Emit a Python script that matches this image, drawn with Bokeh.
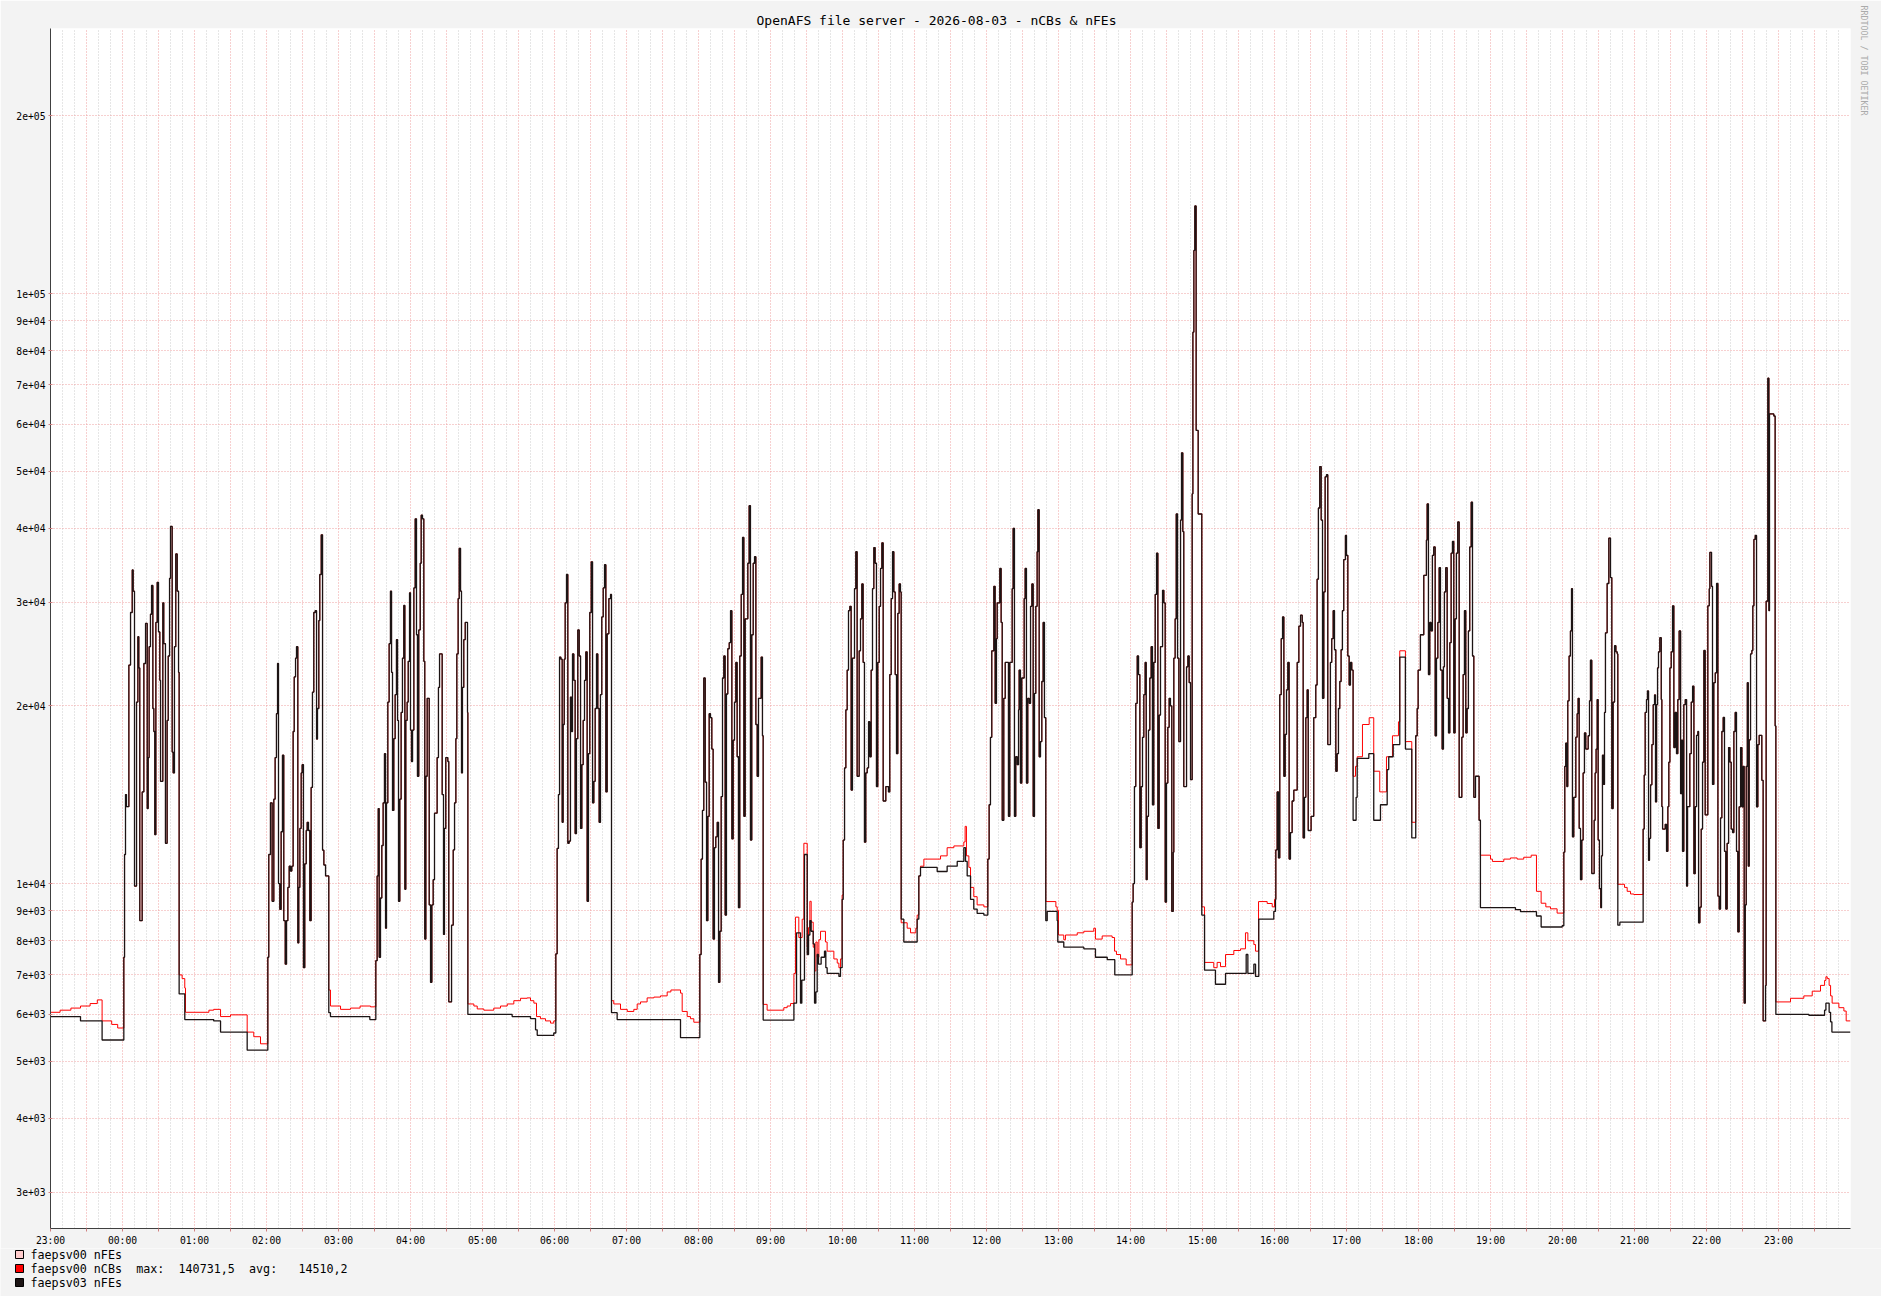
import math
from bokeh.plotting import figure
from bokeh.models import FixedTicker, Range1d, Title
from bokeh.core.properties import value
from bokeh.embed import file_html
from bokeh.resources import INLINE

FONT = "DejaVu Sans Mono"
TITLE = "OpenAFS file server - 2026-08-03 - nCBs & nFEs"
WATERMARK = "RRDTOOL / TOBI OETIKER"

# x axis: minutes since 2026-08-02 23:00, 25 hours shown
X_END = 1500
hour_labels = ["23:00", "00:00", "01:00", "02:00", "03:00", "04:00", "05:00",
               "06:00", "07:00", "08:00", "09:00", "10:00", "11:00", "12:00",
               "13:00", "14:00", "15:00", "16:00", "17:00", "18:00", "19:00",
               "20:00", "21:00", "22:00", "23:00"]

y_tick_values = [3000, 4000, 5000, 6000, 7000, 8000, 9000,
                 10000, 20000, 30000, 40000, 50000, 60000, 70000, 80000, 90000,
                 100000, 200000]
y_tick_labels = ["3e+03", "4e+03", "5e+03", "6e+03", "7e+03", "8e+03", "9e+03",
                 "1e+04", "2e+04", "3e+04", "4e+04", "5e+04", "6e+04", "7e+04",
                 "8e+04", "9e+04", "1e+05", "2e+05"]

# legend rows, split into the columns rrdtool prints them in (char columns)
legend_names = ["faepsv00 nFEs", "faepsv00 nCBs", "faepsv03 nFEs"]
stat_texts = ["max:", "140731,5", "avg:", "14510,2"]
stat_cols = [15, 21, 31, 38]

# ---- data: (minute, value) step points ----
QB0 = [(0, 5950), (25, 5850), (43, 5430)]
QR0 = [(0, 6050), (8, 6100), (17, 6150), (25, 6200), (33, 6260), (39, 6350),
       (43, 5850), (51, 5770), (56, 5690)]
B1 = [(61.1, 7500), (61.7, 11200), (62.5, 14150), (63.3, 13500), (65.3, 23460),
      (66.7, 28800), (68.1, 34000), (68.9, 31300), (70, 9900), (71.7, 20300),
      (72.8, 26200), (73.6, 23200), (74.4, 8650), (76.4, 14300), (77.8, 23600),
      (79.2, 27600), (80.6, 13400), (81.4, 16350), (82.2, 25200), (83.3, 28600),
      (84.2, 32000), (85.3, 19800), (86.1, 18100), (86.9, 12100), (87.8, 27700),
      (88.9, 32400), (90, 26700), (91.1, 22100), (91.7, 14900), (93.6, 29900),
      (94.4, 25500), (95.8, 11700), (97.2, 18900), (98.1, 24300), (99.2, 32900),
      (100, 40300), (101.4, 16700), (102.2, 15400), (103.3, 25200),
      (104.4, 36200), (105.6, 31300), (106.7, 22800)]
QB1 = [(107.2, 6500), (111.9, 5880), (136, 5850), (141.7, 5600), (163.9, 5218)]
QR1 = [(107.2, 7000), (109.7, 6900), (111.9, 6650), (112.5, 6050), (132, 6100),
       (136, 6120), (141.7, 5950), (150, 5990), (163.9, 5600), (169.4, 5500),
       (175, 5350)]
B2 = [(181.1, 7500), (181.9, 11200), (183.3, 13700), (184.7, 9330),
      (186.1, 13900), (187.2, 16350), (188.3, 19400), (189.2, 23600),
      (190, 10000), (191.1, 9040), (192.2, 12240), (193.3, 16500), (194.4, 8650),
      (195.6, 7300), (196.7, 8650), (197.8, 9850), (198.9, 10700), (200, 10500),
      (201.1, 10700), (202.2, 18100), (203.1, 22400), (204.2, 24100),
      (205, 25200), (206.1, 7930), (206.9, 9850), (207.8, 12400), (208.9, 15400),
      (209.7, 15900), (210.8, 7200), (211.9, 10800), (213.1, 12300),
      (213.9, 12700), (215, 12300), (216.1, 8650), (217.2, 14550),
      (218.3, 21100), (219.4, 28800), (220.6, 29000), (221.7, 17570),
      (222.5, 19800), (223.6, 27900), (224.4, 33400), (225.6, 39000),
      (226.7, 11390), (227.8, 10750), (229.2, 10300)]
QB2 = [(231.9, 6040), (233.3, 5950), (266.1, 5880)]
QR2 = [(231.9, 6600), (233.3, 6200), (241.7, 6120), (250, 6150), (258, 6200),
       (266.7, 6180)]
B3 = [(271.1, 7400), (272.2, 10300), (273.1, 13400), (273.9, 7500), (275, 9450),
      (276.1, 11600), (277.2, 13700), (278.3, 16600), (279.2, 8400),
      (280, 13700), (281.1, 20300), (282.2, 25500), (283.3, 31300),
      (284.2, 22800), (285, 13300), (286.1, 17600), (287.2, 20900),
      (288.3, 25900), (289.2, 18900), (290, 9330), (291.1, 13900), (292.2, 19500),
      (293.3, 24100), (294.4, 29600), (295.3, 9780), (296.1, 18900),
      (297.2, 20300), (298.1, 23800), (299.2, 31100), (300, 18200),
      (300.8, 16100), (301.7, 18200), (302.8, 31700), (303.9, 41500),
      (305, 26400), (305.8, 15200), (306.9, 26900), (308.1, 34900),
      (308.9, 42100), (310, 41500), (311.1, 23800), (311.9, 8050), (312.8, 15200),
      (313.9, 20600), (315.6, 9200), (316.7, 6800), (317.8, 9200),
      (318.9, 10150), (320, 13160), (322.2, 16350), (323.3, 21500),
      (324.2, 24500), (326.4, 14150), (327.5, 8200), (328.3, 12400),
      (329.4, 16350), (331.1, 16100), (331.9, 6300), (334.2, 8500),
      (335.6, 11400), (336.7, 13700), (337.8, 17600), (338.6, 24500),
      (339.7, 30400), (340.6, 37000), (341.7, 31300), (342.5, 15400),
      (343.3, 21500), (344.4, 25900), (345.6, 27700), (347.5, 19500)]
QB3 = [(347.8, 6000), (384.7, 5950), (400, 5900), (404.2, 5650),
       (405.6, 5530), (419.4, 5580)]
QR3 = [(347.8, 6250), (352.8, 6200), (355.6, 6130), (361.1, 6100),
       (369.4, 6150), (375, 6200), (380.6, 6250), (386.1, 6330), (391.7, 6390),
       (397.2, 6400), (400, 6330), (402.8, 6270), (405, 5950), (408.3, 5900),
       (412.5, 5850), (416.7, 5800), (419.4, 5850)]
B4 = [(421.1, 7600), (422.2, 11470), (423.3, 14150), (424.2, 24200),
      (425.3, 24000), (426.4, 12700), (427.2, 18600), (428.1, 24000),
      (428.9, 29900), (430, 33400), (431.1, 11700), (432.2, 11800),
      (433.3, 20700), (434.2, 18100), (435, 24500), (436.1, 22100),
      (437.2, 12150), (438.3, 17600), (439.4, 26900), (440.6, 24300),
      (441.7, 12400), (442.8, 15900), (443.9, 18900), (445, 22100),
      (446.1, 24700), (447.2, 9330), (448.3, 16600), (449.4, 28800),
      (450.6, 35100), (451.7, 13700), (452.8, 14900), (453.9, 19800),
      (455, 24500), (456.1, 19800), (457.2, 12700), (458.3, 20900),
      (459.4, 28300), (460.6, 31700), (461.7, 34700), (462.8, 14300),
      (463.9, 26500), (465.3, 30400), (466.7, 30900)]
QB4 = [(467.5, 6040), (472.2, 5880), (525, 5480)]
QR4 = [(467.5, 6330), (469.4, 6250), (475, 6120), (480.6, 6070), (486.1, 6120),
       (488.9, 6250), (491.7, 6300), (497.2, 6400), (502.8, 6420),
       (508.3, 6450), (513.9, 6550), (517, 6600), (525, 6520), (526.4, 6070),
       (530.6, 5950), (533.3, 5900), (536.1, 5820)]
B5 = [(541.1, 7580), (542.2, 11000), (543.3, 13300), (544.4, 22300),
      (545.6, 14850), (546.7, 8650), (547.8, 13000), (548.9, 19400),
      (550, 19100), (551.1, 16900), (552.2, 8050), (553.3, 11500),
      (554.4, 12000), (555.6, 12700), (556.7, 6800), (557.8, 8300),
      (558.9, 14040), (560, 22300), (561.1, 24300), (562.2, 8840),
      (563.3, 20950), (564.4, 25000), (565.6, 25600), (566.7, 29000),
      (567.8, 11900), (568.9, 17500), (570, 20300), (571.1, 23700),
      (572.2, 16400), (573.3, 9100), (574.4, 24300), (575.6, 30900),
      (576.7, 38600), (577.8, 13000), (578.9, 28100), (581.1, 34900),
      (582.2, 43700), (583.3, 11850), (584.4, 26400), (585.6, 34900),
      (586.7, 35800), (587.8, 18600), (588.9, 15200), (590, 20600),
      (592.2, 24200), (593.3, 17800)]
QB5 = [(593.9, 5870)]
QR5 = [(593.9, 6240), (597.2, 6100), (611.1, 6160), (613.9, 6200),
       (616.7, 6260)]
MB = [(619.5, 6270), (621.7, 8250), (625, 6270), (626.1, 6860), (628.3, 11200),
      (630.6, 7580), (631.7, 8180), (632.8, 8650), (633.9, 8300), (635.6, 7900),
      (636.7, 6270), (637.8, 6550), (638.9, 7580), (640, 7300), (642.2, 7500),
      (645, 7680), (646.1, 7200), (647.2, 7040), (657, 6960), (658.3, 7200),
      (659.7, 9400)]
MR = [(619.5, 7040), (620.8, 8770), (623.6, 8100), (626.4, 8700),
      (627.8, 11700), (630.6, 7800), (631.7, 8420), (632.8, 9330),
      (633.9, 8600), (635.6, 7800), (636.7, 7110), (637.8, 7960), (638.9, 7500),
      (640.3, 8030), (641.7, 8300), (645.8, 7960), (647.2, 7680), (652.8, 7450),
      (655.6, 7330), (657, 7200), (658.3, 7450), (659.7, 9560)]
B6 = [(660.6, 11850), (661.7, 15700), (662.8, 19700), (663.9, 23000),
      (665, 29000), (666.1, 29500), (667.2, 14400), (668.3, 24100),
      (670, 31600), (671.1, 36500), (672.2, 15200), (673.9, 24800),
      (675, 28100), (676.1, 32200), (677.2, 23700), (678.3, 11750),
      (679.4, 15400), (680.6, 15700), (681.7, 18800), (682.8, 16400),
      (683.9, 23000), (685, 31600), (686.1, 37100), (687.2, 34900),
      (688.3, 14600), (689.4, 23700), (690.6, 29500), (691.7, 34200),
      (692.8, 37800), (693.9, 13800), (696.1, 14600), (698.3, 14300),
      (699.4, 22600), (700.6, 30400), (701.7, 36500), (702.8, 31200),
      (703.9, 22600), (705, 16600), (706.1, 28700), (707.2, 32200),
      (708.3, 31200)]
QB6 = [(708.9, 8700), (711.1, 7960), (722.2, 8700), (723.6, 10300),
       (725, 10650), (738.9, 10480), (747.2, 10700), (755.6, 10900),
       (761.1, 11500), (762.5, 10900), (763.9, 10300), (766.7, 9400),
       (769.4, 9050), (772.2, 8900), (777.8, 8840)]
QR6 = [(708.9, 8580), (713.9, 8400), (716.7, 8250), (721.1, 8400),
       (722.2, 8840), (723.6, 10300), (725, 10700), (727.8, 11000),
       (741.7, 11140), (747.2, 11500), (752.8, 11580), (761.1, 11760),
       (762.2, 12500), (763.3, 11140), (765.3, 10650), (766.7, 9850),
       (769.4, 9500), (772.2, 9200), (777.8, 9130)]
B7 = [(781.1, 11000), (782.2, 13600), (783.3, 17690), (784.4, 24800),
      (786.1, 31900), (787.2, 20200), (788.3, 26000), (788.9, 29900),
      (791.1, 34200), (792.2, 27700), (793.1, 12800), (794.4, 20600),
      (795.6, 23700), (798.3, 13000), (799.4, 23700), (801.4, 31600),
      (802.2, 40000), (803.3, 13000), (804.4, 16400), (805.6, 15900),
      (806.7, 19700), (807.2, 23000), (808.3, 14800), (809.4, 22300),
      (811.4, 30400), (812.2, 34200), (813.3, 14800), (814.4, 20600),
      (815.6, 20200), (816.7, 29500), (817.8, 32200), (818.9, 13000),
      (820, 21000), (821.1, 29500), (822.2, 36500), (822.8, 43000),
      (823.9, 16400), (825, 17400), (826.1, 22000), (827.2, 27700),
      (828.3, 19100)]
QB7 = [(829.4, 8650), (830.6, 8970), (838.9, 8650), (839.4, 7960),
       (844.4, 7800), (861.1, 7750), (870.8, 7500), (880.6, 7430),
       (886.9, 7000)]
QR7 = [(829.4, 9320), (837.8, 9130), (838.9, 9000), (840, 8180), (844.4, 8030),
       (845.8, 8180), (855.6, 8250), (861.1, 8300), (869.4, 8400),
       (870.8, 8050), (876.4, 8150), (884.7, 8100), (886.7, 7680),
       (888.3, 7580), (891.7, 7450), (896.4, 7280)]
B8 = [(901.4, 9300), (902.2, 10000), (903.3, 14600), (904.4, 20200),
      (905.6, 24300), (906.7, 22600), (907.8, 11500), (908.9, 14600),
      (910, 17690), (911.1, 20900), (912.2, 23700), (913.1, 10150),
      (913.9, 13000), (915, 18200), (916.1, 22300), (917.2, 25200),
      (918.3, 13600), (919.4, 23700), (920.6, 30900), (921.7, 36300),
      (922.8, 12400), (923.9, 19300), (925, 25200), (926.7, 31400),
      (927.8, 29900), (928.9, 9300), (930, 14800), (931.1, 18400),
      (932.2, 20600), (933.3, 20000), (934.4, 8970), (935.6, 11300),
      (936.1, 24100), (937.2, 28100), (938.1, 42300), (939.2, 24100),
      (940.3, 17400), (941.7, 41300), (942.5, 53700), (943.6, 39500),
      (944.4, 14600), (946.7, 23300), (947.8, 24300), (948.9, 21900),
      (950, 15000), (951.4, 45760), (952, 86000), (952.8, 118300),
      (953.6, 140731.5), (954.7, 58600), (956.4, 42300)]
QB8 = [(959.4, 8840), (961.7, 7130), (970.8, 6750), (979.2, 7040),
       (996.4, 7580), (997.8, 7040), (1002.8, 7300), (1004.2, 6960),
       (1006.9, 8700), (1019.4, 8970), (1020.8, 9400)]
QR8 = [(959.4, 9130), (961.7, 7350), (969.4, 7200), (972.2, 7350),
       (975, 7230), (979.2, 7580), (986.1, 7700), (991.7, 7750), (995.8, 8250),
       (997.8, 8000), (1002.8, 7880), (1004.2, 7680), (1006.7, 9320),
       (1013.9, 9250), (1018.1, 9130), (1020, 9400)]
B9 = [(1021.1, 11400), (1022.2, 14300), (1023.3, 11050), (1024.4, 20900),
      (1025.6, 26000), (1026.7, 28300), (1027.8, 15200), (1028.9, 17900),
      (1030, 21300), (1031.1, 23700), (1032.2, 11000), (1033.3, 12200),
      (1034.7, 13800), (1036.1, 14400), (1038.9, 23700), (1040.3, 27300),
      (1041.7, 28500), (1043.1, 27700), (1043.9, 11950), (1045, 14000),
      (1046.1, 19100), (1047.2, 21300), (1048.1, 12300), (1050.5, 13000),
      (1052.7, 19100), (1054.4, 21700), (1055.5, 32800), (1056.6, 43300),
      (1057.7, 50900), (1058.9, 41300), (1060, 20600), (1061.1, 31200),
      (1062.2, 48900), (1063.3, 49300), (1064.4, 17200), (1066.6, 23700),
      (1067.7, 26000), (1068.9, 29000), (1070, 24900), (1071.1, 15500),
      (1072.2, 16600), (1073.3, 19800), (1074.4, 22000), (1075.5, 24900),
      (1076.6, 29000), (1077.7, 35400), (1079.1, 38900), (1080, 36000),
      (1081.1, 24300), (1082.2, 21700), (1083.3, 23700), (1084.4, 23000)]
MidB = [(1085.5, 12800), (1088, 14000), (1088.9, 16300), (1098.6, 16600),
        (1102.7, 12800), (1108.3, 13600), (1113.9, 15600), (1115.2, 16400),
        (1118.9, 17200), (1124.4, 24200), (1129.1, 16900), (1134.4, 11950)]
MidR = [(1085.5, 15200), (1087.5, 15800), (1088.9, 16400), (1093.3, 18600),
        (1098.9, 19100), (1102.7, 15500), (1107.7, 14300), (1113.3, 16400),
        (1118.3, 17800), (1123.3, 18800), (1124.4, 24800), (1129.1, 17400),
        (1134.4, 12700)]
B10 = [(1137.7, 17800), (1138.9, 19800), (1139.7, 23000), (1141.6, 26400),
       (1144.4, 33300), (1146.6, 38200), (1147.2, 44000), (1148.3, 22600),
       (1149.4, 27700), (1150.5, 26800), (1151.6, 36000), (1152.7, 37200),
       (1153.9, 17800), (1155, 24100), (1156.1, 27700), (1157.2, 34300),
       (1158.3, 23000), (1159.7, 16900), (1160.8, 23300), (1161.6, 31200),
       (1162.7, 34300), (1163.9, 20600), (1165, 18000), (1166.1, 25600),
       (1167.2, 36300), (1168.3, 38000), (1169.4, 18000), (1170.5, 28100),
       (1171.6, 36300), (1172.7, 41000), (1173.9, 14000), (1176.1, 17700),
       (1177.2, 22600), (1178.3, 29000), (1179.4, 18000), (1180.5, 19800),
       (1181.6, 26800), (1182.7, 37200), (1183.9, 44300), (1185, 24300),
       (1186.1, 14000), (1187.5, 15200), (1190.5, 12800)]
QB10 = [(1191.6, 9100), (1220.8, 9030), (1225, 8960), (1238.3, 8810),
        (1242.2, 8440), (1259.7, 8480)]
QR10 = [(1191.6, 11170), (1200, 11000), (1201.6, 10900), (1211.1, 11000),
        (1216.6, 11050), (1222.2, 11000), (1227.7, 11080), (1233.9, 11170),
        (1238.3, 9700), (1242.2, 9260), (1246.1, 9130), (1250, 9060),
        (1255.5, 8910)]
B11 = [(1261.1, 11300), (1261.9, 15800), (1262.7, 17300), (1263.6, 14600),
       (1264.4, 20400), (1265.5, 24300), (1266.6, 26800), (1267.5, 31600),
       (1268.3, 12000), (1269.4, 14000), (1271.1, 17700), (1272.2, 19400),
       (1273, 20600), (1273.9, 12400), (1275, 10150), (1276.1, 11850),
       (1277.2, 15400), (1278.3, 18000), (1279.4, 16900), (1281.4, 17800),
       (1282.5, 20400), (1283.3, 23900), (1284.4, 10400), (1286.4, 12800),
       (1287.2, 15400), (1288, 16900), (1288.9, 20500), (1289.7, 11850),
       (1290.8, 9800), (1291.9, 9100), (1292.5, 11140), (1293.3, 16500),
       (1294.2, 14720), (1295, 19500), (1295.8, 26600), (1297.2, 32250),
       (1298.6, 38500), (1300, 33000), (1301.1, 13400), (1302.2, 20300),
       (1303.4, 25300), (1304.5, 24700), (1305.6, 24500)]
QB11 = [(1306.1, 8500), (1307.8, 8600)]
QR11 = [(1306.1, 9970), (1311.7, 9850), (1313.9, 9700), (1316.7, 9600),
        (1319.4, 9580)]
B12 = [(1327.2, 12370), (1328.1, 15270), (1328.9, 19500), (1330, 20500),
       (1330.8, 21200), (1331.7, 10950), (1332.5, 11930), (1333.4, 14700),
       (1334.5, 17200), (1335.6, 20100), (1336.7, 20880), (1337.5, 13750),
       (1338.4, 20100), (1339.2, 23200), (1340, 24700), (1341.1, 26100),
       (1342.3, 20500), (1342.8, 13500), (1343.4, 12370), (1345.6, 12600),
       (1346.7, 11340), (1347.8, 13500), (1348.6, 16060), (1349.5, 23200),
       (1350.6, 24700), (1351.7, 29560), (1352.8, 17000), (1353.9, 19500),
       (1355, 16600), (1356.1, 20500), (1357.2, 26800), (1358.4, 14200),
       (1359.2, 17500), (1360, 11340), (1361.1, 20100), (1362.3, 20500),
       (1363.4, 9900), (1364.2, 13500), (1366.1, 16600), (1367.3, 20300),
       (1368.4, 21600), (1369.5, 10390), (1370.6, 13500), (1371.7, 17830),
       (1372.8, 18100), (1373.4, 8580), (1374.5, 9120), (1375.6, 12370),
       (1376.7, 16060), (1377.8, 24830), (1378.9, 13070), (1381.1, 29560),
       (1382.3, 31600), (1382.8, 36420), (1384.2, 31900), (1385, 14720),
       (1386.1, 21900), (1387.3, 22760), (1388.4, 32250), (1389.5, 9520),
       (1390.6, 9050), (1391.7, 12920), (1392.8, 18100), (1393.9, 19120),
       (1395, 11340), (1396.1, 9050), (1397.2, 11700), (1398.4, 17000),
       (1399.5, 16060), (1400.6, 12370), (1401.7, 12200), (1402.8, 18100),
       (1403.9, 19500), (1405, 11340), (1406.1, 8280), (1407.2, 13490),
       (1408.4, 17000), (1409.5, 13490), (1410.6, 15800), (1411.4, 6270),
       (1412.3, 9200), (1413.1, 15800), (1414, 21900), (1414.8, 10700),
       (1415.6, 17520), (1416.7, 24500), (1417.8, 24830), (1418.6, 29560),
       (1419.5, 38300), (1420.6, 38900), (1421.7, 13490), (1422.8, 17200),
       (1423.9, 17830), (1426.1, 14960), (1427.2, 5850), (1429.2, 6720),
       (1429.7, 30100), (1431.1, 71870), (1432, 29000), (1432.5, 62500),
       (1436.1, 62000), (1437.2, 18500)]
QB12 = [(1437.8, 6000), (1465.3, 5980), (1478.4, 6100), (1479.5, 6270),
        (1482.2, 6050), (1483.4, 5830), (1484.5, 5600), (1500, 5600)]
QR12 = [(1437.8, 6300), (1450, 6390), (1461.1, 6450), (1468.1, 6570),
        (1475, 6720), (1478.4, 6850), (1479.5, 6950), (1480.6, 6900),
        (1482.2, 6720), (1483.4, 6450), (1484.7, 6270), (1490.3, 6160),
        (1494.5, 6080), (1496.4, 5850), (1500, 5850)]

black_segments = [QB0, B1, QB1, B2, QB2, B3, QB3, B4, QB4, B5, QB5, MB, B6, QB6,
                  B7, QB7, B8, QB8, B9, MidB, B10, QB10, B11, QB11, B12, QB12]
red_segments = [QR0, B1, QR1, B2, QR2, B3, QR3, B4, QR4, B5, QR5, MR, B6, QR6,
                B7, QR7, B8, QR8, B9, MidR, B10, QR10, B11, QR11, B12, QR12]


def series(segs):
    xs, ys = [], []
    for s in segs:
        for t, v in s:
            xs.append(t)
            ys.append(v)
    return xs, ys


bx, by = series(black_segments)
rx, ry = series(red_segments)

COL_RED = "#FF0000"
COL_BLACK = "#1C1414"
COL_PINK = "#FFCCCC"
BG = "#F3F3F3"

W = 1881
H_MAIN, H_LEG = 1248, 48
FL, FT, FW, FH = 50, 28, 1800, 1200   # frame left/top/width/height on canvas

p = figure(width=W, height=H_MAIN,
           x_range=Range1d(0, X_END), y_range=Range1d(2602, 281300),
           y_axis_type="log", output_backend="svg", toolbar_location=None,
           min_border_left=FL, min_border_right=W - FL - FW,
           min_border_top=FT, min_border_bottom=H_MAIN - FT - FH,
           background_fill_color="#FFFFFF", border_fill_color=BG,
           outline_line_color=None)

p.title.text = TITLE
p.title.align = "left"
p.title.offset = 706
p.title.standoff = 2
p.title.text_font = FONT
p.title.text_font_size = "13px"
p.title.text_font_style = "normal"
p.title.text_color = "#000000"

p.add_layout(Title(text=WATERMARK, align="left", offset=-23, standoff=17,
                   text_font=FONT, text_font_size="8.3px",
                   text_font_style="normal", text_color="#AAAAAA"), "right")

x_major = list(range(0, X_END, 30))
x_minor = [m for m in range(0, X_END, 10) if m % 30 != 0]
p.xaxis.ticker = FixedTicker(ticks=x_major, minor_ticks=x_minor)
p.xaxis.major_label_overrides = {
    m: (hour_labels[m // 60] if m % 60 == 0 else "") for m in x_major}
p.yaxis.ticker = FixedTicker(ticks=y_tick_values, minor_ticks=[])
p.yaxis.major_label_overrides = {v: s for v, s in zip(y_tick_values, y_tick_labels)}

for ax in (p.xaxis[0], p.yaxis[0]):
    ax.axis_line_color = "#404040"
    ax.major_label_text_font = FONT
    ax.major_label_text_font_size = "9.7px"
    ax.major_label_text_color = "#000000"
    ax.minor_tick_line_color = None
p.xaxis.major_tick_line_color = "#D08080"
p.xaxis.major_tick_out = 3
p.xaxis.major_tick_in = 0
p.xaxis.major_label_standoff = 2
p.yaxis.major_tick_line_color = "#D08080"
p.yaxis.major_tick_out = 2
p.yaxis.major_tick_in = 2
p.yaxis.major_label_standoff = 3

p.xgrid.grid_line_color = "#EFA0A0"
p.xgrid.grid_line_dash = "1 2"
p.xgrid.minor_grid_line_color = "#CCCCCC"
p.xgrid.minor_grid_line_dash = "1 2"
p.ygrid.grid_line_color = "#EFA0A0"
p.ygrid.grid_line_dash = "1 2"

p.step(rx, ry, mode="after", line_color=COL_RED, line_width=1)
p.step(bx, by, mode="after", line_color=COL_BLACK, line_width=1.3)

# ---- legend strip below the chart (pixel coordinates, y downward) ----
leg = figure(width=W, height=H_LEG, x_range=Range1d(0, W),
             y_range=Range1d(H_LEG, 0), x_axis_type=None, y_axis_type=None,
             output_backend="svg", toolbar_location=None, min_border=0,
             background_fill_color=BG, border_fill_color=BG,
             outline_line_color=None)
leg.grid.visible = False
CHAR_W = 7.05
TEXT_X = 30
row_y = [6, 20, 34]
leg.rect(x=[19, 19, 19], y=row_y, width=8, height=8,
         fill_color=[COL_PINK, COL_RED, COL_BLACK], line_color="#000000",
         line_width=1)
leg.text(x=[TEXT_X] * 3, y=row_y, text=legend_names,
         text_font=value(FONT), text_font_size="11.7px",
         text_color="#000000", text_align="left", text_baseline="middle")
leg.text(x=[TEXT_X + c * CHAR_W for c in stat_cols], y=[row_y[1]] * 4,
         text=stat_texts, text_font=value(FONT), text_font_size="11.7px",
         text_color="#000000", text_align="left", text_baseline="middle")

open("out.html", "w").write(file_html([p, leg], INLINE))
